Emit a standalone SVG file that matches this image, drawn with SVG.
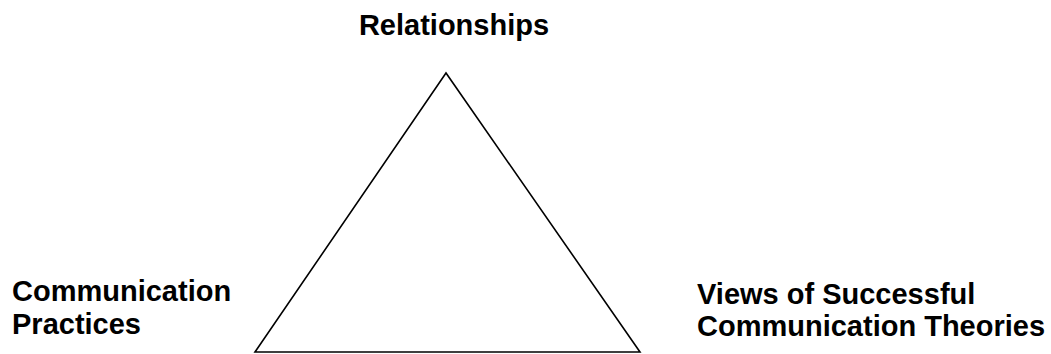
<svg xmlns="http://www.w3.org/2000/svg" width="1051" height="354" viewBox="0 0 1051 354">
<style>
.t{font-family:"Liberation Sans",Arial,sans-serif;font-weight:bold;font-size:29px;fill:#000}
</style>
<rect width="1051" height="354" fill="#fff"/>
<g id="connectors">
<polygon points="446,73 255,352 640,352" fill="none" stroke="#000" stroke-width="1.6"/>
</g>
<g id="relationships"><text class="t" x="454" y="35" text-anchor="middle">Relationships</text></g>
<g id="practices"><text class="t" x="12" y="301">Communication</text><text class="t" x="12" y="334">Practices</text></g>
<g id="views"><text class="t" x="697" y="304">Views of Successful</text><text class="t" x="697" y="336">Communication Theories</text></g>
</svg>
